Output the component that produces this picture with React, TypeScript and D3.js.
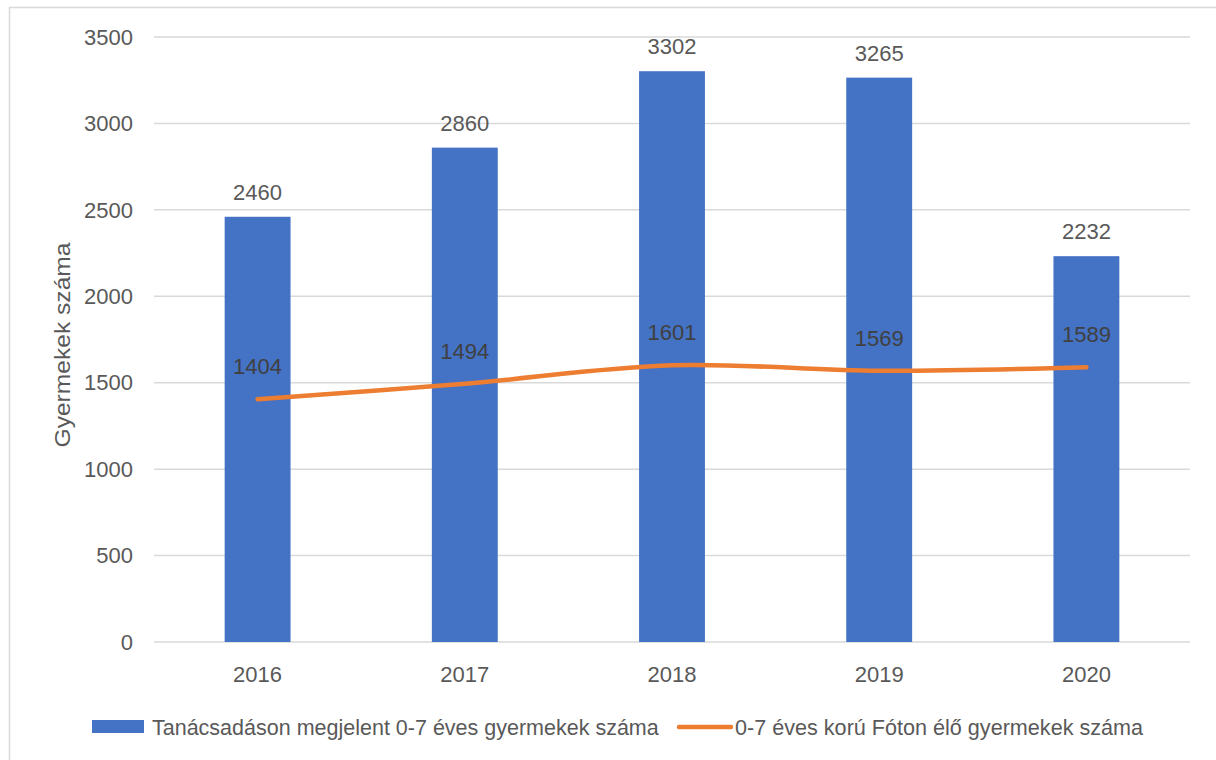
import React from "react";
import * as d3 from "d3";

const years = ["2016", "2017", "2018", "2019", "2020"];
const visits = [2460, 2860, 3302, 3265, 2232];
const residents = [1404, 1494, 1601, 1569, 1589];
const yTicks = [0, 500, 1000, 1500, 2000, 2500, 3000, 3500];
const barLabel = "Tanácsadáson megjelent 0-7 éves gyermekek száma";
const lineLabel = "0-7 éves korú Fóton élő gyermekek száma";
const yTitle = "Gyermekek száma";

const W = 1216;
const H = 760;
const FONT = "'Liberation Sans', Arial, sans-serif";
const TXT = "#595959";
const BLUE = "#4472C4";
const ORANGE = "#ED7D31";
const GRID = "#D9D9D9";

export default function App() {
  const x = d3.scaleBand<string>().domain(years).range([154, 1190]).padding(0);
  const y = d3.scaleLinear().domain([0, 3500]).range([642, 37]);
  const bw = x.bandwidth() * 0.318;
  const cx = (yr: string) => (x(yr) as number) + x.bandwidth() / 2;

  const line = d3
    .line<number>()
    .x((_, i) => cx(years[i]))
    .y((d) => y(d))
    .curve(d3.curveCatmullRom.alpha(0.5));

  return (
    <svg
      width={W}
      height={H}
      style={{ position: "fixed", left: 0, top: 0, display: "block", background: "#fff" }}
      fontFamily={FONT}
    >
      <rect x={0} y={0} width={W} height={H} fill="#fff" />
      <rect x={9.5} y={7.5} width={1400} height={900} fill="none" stroke={GRID} strokeWidth={1.5} />
      {yTicks.map((t) => (
        <g key={t}>
          <line x1={154} x2={1190} y1={y(t)} y2={y(t)} stroke={GRID} strokeWidth={1.5} />
          <text x={133} y={y(t)} dy="0.35em" textAnchor="end" fontSize={22} fill={TXT}>
            {t}
          </text>
        </g>
      ))}
      {years.map((yr, i) => (
        <g key={yr}>
          <rect x={cx(yr) - bw / 2} y={y(visits[i])} width={bw} height={y(0) - y(visits[i])} fill={BLUE} />
          <text x={cx(yr)} y={y(visits[i]) - 17} textAnchor="middle" fontSize={22} fill={TXT}>
            {visits[i]}
          </text>
          <text x={cx(yr)} y={682} textAnchor="middle" fontSize={22} fill={TXT}>
            {yr}
          </text>
        </g>
      ))}
      <path d={line(residents) || ""} fill="none" stroke={ORANGE} strokeWidth={4.5} strokeLinecap="round" />
      {years.map((yr, i) => (
        <text key={"l" + yr} x={cx(yr)} y={y(residents[i]) - 25} textAnchor="middle" fontSize={22} fill="#404040">
          {residents[i]}
        </text>
      ))}
      <text
        transform={`translate(70,345) rotate(-90)`}
        textAnchor="middle"
        fontSize={22}
        fill={TXT}
        textLength={205}
        lengthAdjust="spacingAndGlyphs"
      >
        {yTitle}
      </text>
      <rect x={92} y={720} width={52} height={13} fill={BLUE} />
      <text x={152} y={735} fontSize={21.5} fill={TXT}>
        {barLabel}
      </text>
      <line x1={679} x2={731} y1={727} y2={727} stroke={ORANGE} strokeWidth={4.5} strokeLinecap="round" />
      <text x={735} y={735} fontSize={21.6} fill={TXT}>
        {lineLabel}
      </text>
    </svg>
  );
}
